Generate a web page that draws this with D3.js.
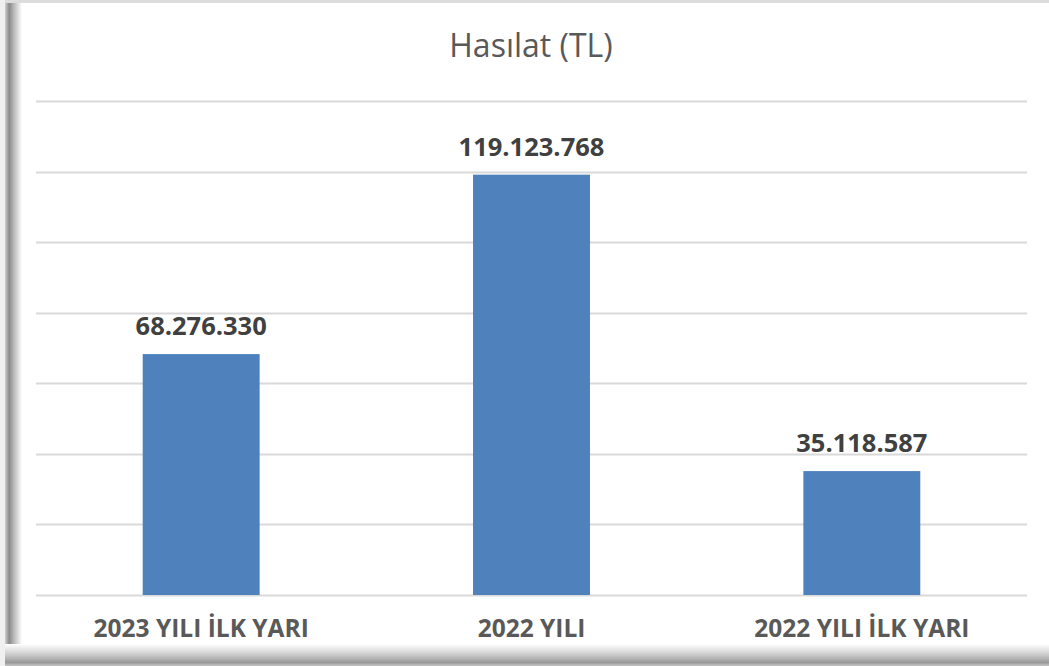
<!DOCTYPE html>
<html>
<head>
<meta charset="utf-8">
<script src="https://cdn.jsdelivr.net/npm/d3@7"></script>
<style>
  html, body { margin: 0; padding: 0; background: #fff; }
  svg { display: block; }
</style>
</head>
<body>
<svg></svg>
<script>
// Veriler
const categories = ["2023 YILI İLK YARI", "2022 YILI", "2022 YILI İLK YARI"];
const values = [68276330, 119123768, 35118587];
const valueLabels = ["68.276.330", "119.123.768", "35.118.587"];
const yTicks = [0, 20000000, 40000000, 60000000, 80000000, 100000000, 120000000, 140000000];

const width = 1049;
const height = 666;

const svg = d3.select("svg")
  .attr("width", width)
  .attr("height", height);

const defs = svg.append("defs");

// Gölge degradeleri (sol ve alt kenar)
const gl = defs.append("linearGradient").attr("id", "shadowLeft")
  .attr("x1", "0").attr("x2", "1").attr("y1", "0").attr("y2", "0");
gl.append("stop").attr("offset", "0").attr("stop-color", "#d0d0d0");
gl.append("stop").attr("offset", "0.25").attr("stop-color", "#8a8a8a");
gl.append("stop").attr("offset", "0.5").attr("stop-color", "#b5b5b5");
gl.append("stop").attr("offset", "1").attr("stop-color", "#ffffff");

const gb = defs.append("linearGradient").attr("id", "shadowBottom")
  .attr("x1", "0").attr("x2", "0").attr("y1", "0").attr("y2", "1");
gb.append("stop").attr("offset", "0").attr("stop-color", "#ffffff");
gb.append("stop").attr("offset", "0.45").attr("stop-color", "#d0d0d0");
gb.append("stop").attr("offset", "0.85").attr("stop-color", "#999999");
gb.append("stop").attr("offset", "1").attr("stop-color", "#c8c8c8");

// Çerçeve
svg.append("rect").attr("x", 0).attr("y", 0).attr("width", width).attr("height", 3)
  .attr("fill", "#dcdcdc");
svg.append("rect").attr("x", 0).attr("y", 0).attr("width", 5).attr("height", height)
  .attr("fill", "#f0f0f0");
svg.append("rect").attr("x", 5).attr("y", 3).attr("width", 17).attr("height", height - 3)
  .attr("fill", "url(#shadowLeft)");
svg.append("rect").attr("x", 5).attr("y", 644).attr("width", width - 5).attr("height", 22)
  .attr("fill", "url(#shadowBottom)");

// Ölçekler
const x = d3.scaleBand()
  .domain(categories)
  .range([36, 1027])
  .paddingInner(0.646)
  .paddingOuter(0.323);

const y = d3.scaleLinear()
  .domain([0, 140000000])
  .range([595, 101]);

// Izgara çizgileri
svg.append("g")
  .selectAll("line")
  .data(yTicks)
  .enter()
  .append("line")
  .attr("x1", 36)
  .attr("x2", 1027)
  .attr("y1", d => Math.round(y(d)) + 0.5)
  .attr("y2", d => Math.round(y(d)) + 0.5)
  .attr("stroke", "#d9d9d9")
  .attr("stroke-width", 2);

// Sütunlar
svg.append("g")
  .selectAll("rect")
  .data(values)
  .enter()
  .append("rect")
  .attr("x", (d, i) => x(categories[i]))
  .attr("y", d => y(d))
  .attr("width", x.bandwidth())
  .attr("height", d => y(0) - y(d))
  .attr("fill", "#4f81bd");

// Değer etiketleri
svg.append("g")
  .selectAll("text")
  .data(values)
  .enter()
  .append("text")
  .attr("x", (d, i) => x(categories[i]) + x.bandwidth() / 2)
  .attr("y", d => y(d) - 19)
  .attr("text-anchor", "middle")
  .attr("font-family", "'Open Sans', sans-serif")
  .attr("font-weight", "bold")
  .attr("font-size", "25.5px")
  .attr("fill", "#404040")
  .text((d, i) => valueLabels[i]);

// Kategori etiketleri
const xAxis = svg.append("g")
  .attr("transform", "translate(0,595)")
  .call(d3.axisBottom(x).tickSize(0).tickPadding(0));
xAxis.select(".domain").remove();
xAxis.selectAll("text")
  .attr("dy", 0)
  .attr("y", 42)
  .attr("font-family", "'Open Sans', sans-serif")
  .attr("font-weight", "bold")
  .attr("font-size", "24.5px")
  .attr("fill", "#595959");

// Başlık
svg.append("text")
  .attr("x", 531)
  .attr("y", 57)
  .attr("text-anchor", "middle")
  .attr("font-family", "'Open Sans', sans-serif")
  .attr("font-size", "32px")
  .attr("fill", "#595959")
  .text("Hasılat (TL)");
</script>
</body>
</html>
